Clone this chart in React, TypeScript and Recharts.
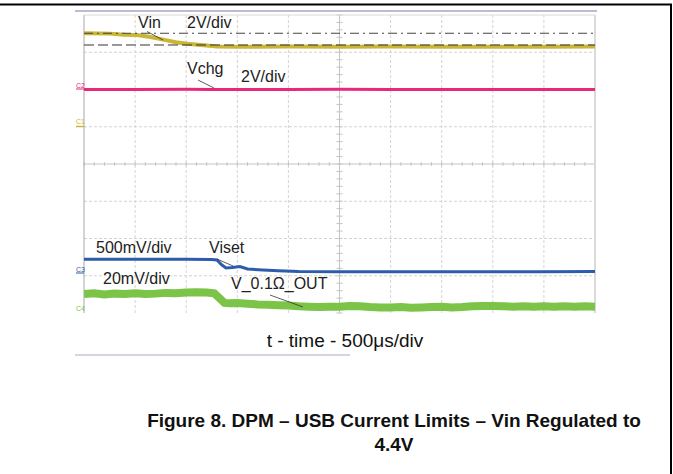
import { ComposedChart, Line, XAxis, YAxis, ReferenceLine } from 'recharts';

// scope screen: 10 time divisions, 8 vertical divisions (0 = bottom)
const xTicks = [0, 1, 2, 3, 4, 5, 6, 7, 8, 9, 10];
const yTicks = [0, 1, 2, 3, 4, 5, 6, 7, 8];

// C1 - Vin (2V/div)
const vinTime = [0, 0.5, 0.8, 1.04, 1.3, 1.55, 1.8, 2.02, 2.4, 2.6, 3, 4, 5, 6, 7, 8, 9, 10];
const vinDiv = [7.51, 7.5, 7.47, 7.46, 7.41, 7.34, 7.27, 7.23, 7.18, 7.155, 7.15, 7.152, 7.15, 7.152, 7.15, 7.151, 7.15, 7.152];

// C2 - Vchg (2V/div)
const vchgTime = [0, 1, 2, 2.5, 3, 4, 5, 6, 7, 8, 9, 10];
const vchgDiv = [6.0, 6.0, 6.005, 6.0, 6.0, 6.0, 6.005, 6.0, 6.0, 6.0, 6.0, 6.0];

// C3 - Viset (500mV/div)
const visetTime = [0, 1, 2, 2.5, 2.6, 2.7, 2.78, 2.9, 3.05, 3.2, 3.5, 3.8, 4.2, 5, 6, 7, 8, 9, 10];
const visetDiv = [1.442, 1.44, 1.44, 1.436, 1.423, 1.289, 1.208, 1.221, 1.248, 1.181, 1.154, 1.133, 1.114, 1.109, 1.11, 1.109, 1.11, 1.11, 1.112];

// C4 - V_0.1ohm_OUT (20mV/div), noisy trace
const voutTime = [
  0, 0.2, 0.4, 0.6, 0.8, 1.0, 1.2, 1.4, 1.6, 1.8, 2.0, 2.2, 2.4, 2.55, 2.65, 2.75, 2.85, 3.0, 3.2, 3.4,
  3.6, 3.8, 4.0, 4.2, 4.4, 4.6, 4.8, 5.0, 5.2, 5.4, 5.6, 5.8, 6.0, 6.2, 6.4, 6.6, 6.8, 7.0, 7.2, 7.4,
  7.6, 7.8, 8.0, 8.2, 8.4, 8.6, 8.8, 9.0, 9.2, 9.4, 9.6, 9.8, 10,
];
const voutDiv = [
  0.51, 0.53, 0.5, 0.52, 0.51, 0.53, 0.51, 0.52, 0.54, 0.53, 0.55, 0.56, 0.55, 0.53, 0.4, 0.27, 0.26, 0.27, 0.25, 0.23,
  0.22, 0.21, 0.2, 0.18, 0.17, 0.16, 0.17, 0.17, 0.19, 0.18, 0.16, 0.15, 0.15, 0.16, 0.14, 0.15, 0.16, 0.17, 0.15, 0.16,
  0.18, 0.19, 0.19, 0.18, 0.17, 0.18, 0.17, 0.18, 0.17, 0.18, 0.17, 0.18, 0.17,
];

const VIN_CURSOR = 7.51;
const VREG_CURSOR = 7.195;

const pts = (t: number[], v: number[]) => t.map((x, i) => ({ t: x, v: v[i] }));

const minorX = Array.from({ length: 51 }, (_, i) => i * 0.2);
const minorY = Array.from({ length: 41 }, (_, i) => i * 0.2);

const YELLOW = '#c9b636';
const PINK = '#e8287c';
const BLUE = '#2d5cad';
const GREEN = '#7bc448';
const FONT = '"Liberation Sans", Arial, sans-serif';

export default function App() {
  return (
    <div style={{ position: 'absolute', left: 0, top: 0, width: 673, height: 474, background: '#fff', fontFamily: FONT }}>
      <ComposedChart width={673} height={474} margin={{ top: 15, left: 84, right: 78, bottom: 161 }}>
        <XAxis dataKey="t" type="number" domain={[0, 10]} ticks={xTicks} height={0} tick={false} axisLine={false} tickLine={false} allowDataOverflow />
        <YAxis type="number" domain={[0, 8]} ticks={yTicks} width={0} tick={false} axisLine={false} tickLine={false} allowDataOverflow />
        {xTicks.filter((t) => t > 0 && t < 10 && t !== 5).map((t) => (
          <ReferenceLine key={'gx' + t} x={t} stroke="#d4d4d4" strokeDasharray="3 2" />
        ))}
        {yTicks.filter((t) => t > 0 && t < 8 && t !== 4).map((t) => (
          <ReferenceLine key={'gy' + t} y={t} stroke="#d4d4d4" strokeDasharray="3 2" />
        ))}
        <ReferenceLine x={5} stroke="#c4c4c4" />
        <ReferenceLine y={4} stroke="#c4c4c4" />
        {minorX.map((m) => (
          <ReferenceLine key={'mx' + m} segment={[{ x: m, y: 3.95 }, { x: m, y: 4.05 }]} stroke="#c4c4c4" />
        ))}
        {minorY.map((m) => (
          <ReferenceLine key={'my' + m} segment={[{ x: 4.94, y: m }, { x: 5.06, y: m }]} stroke="#c4c4c4" />
        ))}
        <ReferenceLine x={0} stroke="#a8a8a8" />
        <ReferenceLine x={10} stroke="#dadada" strokeWidth={2} />
        <ReferenceLine y={8} stroke="#dadada" />
        <Line data={pts(vinTime, vinDiv)} dataKey="v" type="linear" stroke={YELLOW} strokeWidth={4} dot={false} isAnimationActive={false} />
        <Line data={pts(vchgTime, vchgDiv)} dataKey="v" type="linear" stroke={PINK} strokeWidth={3} dot={false} isAnimationActive={false} />
        <Line data={pts(visetTime, visetDiv)} dataKey="v" type="linear" stroke={BLUE} strokeWidth={3} dot={false} isAnimationActive={false} />
        <Line data={pts(voutTime, voutDiv)} dataKey="v" type="linear" stroke={GREEN} strokeWidth={8} dot={false} isAnimationActive={false} />
        <ReferenceLine y={VIN_CURSOR} stroke="#444" strokeDasharray="9 4 2 4" />
        <ReferenceLine y={VREG_CURSOR} stroke="#333" strokeDasharray="10 4" />
      </ComposedChart>

      <svg width={673} height={474} style={{ position: 'absolute', left: 0, top: 0, pointerEvents: 'none' }} fontFamily={FONT}>
        {/* page frame */}
        <line x1={0} y1={4.5} x2={672} y2={4.5} stroke="#000" strokeWidth={2} />
        <line x1={671} y1={4} x2={671} y2={474} stroke="#000" strokeWidth={2} />
        <line x1={75} y1={11} x2={597} y2={11} stroke="#aaa3c4" strokeWidth={1.5} />
        <line x1={75} y1={355} x2={350} y2={355} stroke="#cbc6d4" strokeWidth={1.5} />

        {/* channel markers */}
        <text x={76} y={88} fontSize={7} fill={PINK}>C2</text>
        <line x1={76} y1={89} x2={84} y2={89} stroke={PINK} />
        <text x={76} y={124} fontSize={7} fill={YELLOW}>C1</text>
        <line x1={76} y1={126.5} x2={84} y2={126.5} stroke={YELLOW} strokeWidth={1.5} />
        <text x={76} y={272} fontSize={7} fill={BLUE}>C3</text>
        <line x1={76} y1={273} x2={84} y2={273} stroke={BLUE} />
        <text x={76} y={311} fontSize={7} fill={GREEN}>C4</text>

        {/* trace annotations */}
        <g fontSize={16} fill="#222">
          <text x={138} y={28}>Vin</text>
          <text x={187} y={28}>2V/div</text>
          <text x={187} y={74}>Vchg</text>
          <text x={241} y={81.5}>2V/div</text>
          <text x={96} y={253}>500mV/div</text>
          <text x={209} y={253}>Viset</text>
          <text x={103} y={284}>20mV/div</text>
          <text x={231} y={289}>V_0.1Ω_OUT</text>
        </g>
        <g stroke="#333" strokeWidth={0.8}>
          <line x1={147} y1={31.5} x2={163} y2={40} />
          <line x1={198} y1={80} x2={214} y2={88} />
          <line x1={217} y1={259} x2={233} y2={266} />
          <line x1={270} y1={295} x2={303} y2={307} />
        </g>

        <text x={345} y={347} fontSize={19} fill="#111" textAnchor="middle">t - time - 500μs/div</text>

        <g fontSize={19} fontWeight="bold" fill="#111" textAnchor="middle">
          <text x={394} y={427}>Figure 8. DPM – USB Current Limits – Vin Regulated to</text>
          <text x={394} y={451}>4.4V</text>
        </g>
      </svg>
    </div>
  );
}
